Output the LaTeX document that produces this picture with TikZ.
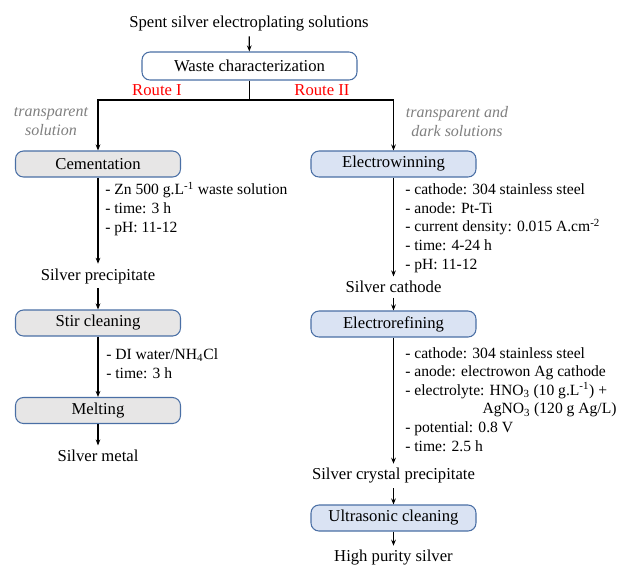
\documentclass[tikz,border=0pt]{standalone}
\usepackage{fontspec}
\setmainfont{Liberation Serif}
\usetikzlibrary{arrows.meta}
\definecolor{boxblue}{HTML}{4A6FA5}
\definecolor{greyfill}{HTML}{E7E6E6}
\definecolor{bluefill}{HTML}{DAE3F3}
\definecolor{notegrey}{HTML}{7F7F7F}

\begin{document}
\begin{tikzpicture}[x=0.75pt,y=-0.75pt,
    >={Stealth[length=4.5pt,width=3.5pt]},
    every node/.style={font=\fontsize{12.5}{15}\selectfont},
    stepbox/.style={draw=boxblue,line width=0.8pt,rounded corners=6pt,
        minimum width=123.75pt,minimum height=19.5pt,inner sep=0pt},
    greybox/.style={stepbox,fill=greyfill},
    bluebox/.style={stepbox,fill=bluefill},
    params/.style={anchor=base west,align=left,inner sep=0pt,
        font=\fontsize{11.7}{13.9}\selectfont},
    route/.style={text=red},
    note/.style={align=center,text=notegrey,
        font=\fontsize{12}{14.2}\selectfont\itshape}]
    \useasboundingbox (0,0) rectangle (622,565);

    % top
    \node (spent) at (249,24) {Spent silver electroplating solutions};
    \node[stepbox,fill=white,minimum width=161.25pt,minimum height=21pt] (waste) at (249.5,66) {Waste characterization};
    \coordinate (fork) at (249.5,100);
    \node[route] (r1) at (157,90) {Route I};
    \node[route] (r2) at (322,90) {Route II};
    \node[note] (n1) at (51,121.5) {transparent\\solution};
    \node[note] (n2) at (457,121.5) {transparent and\\dark solutions};

    % route I
    \node[greybox] (cem) at (98,164) {Cementation};
    \node[params] (p1) at (105,232) {- Zn 500 g.L\textsuperscript{-1} waste solution\\- time: 3 h\\- pH: 11-12};
    \node (ppt) at (98,276) {Silver precipitate};
    \node[greybox] (stir) at (98,323) {Stir cleaning};
    \node[params] (p2) at (106,378) {- DI water/NH\textsubscript{4}Cl\\- time: 3 h};
    \node[greybox] (melt) at (98,410.5) {Melting};
    \node (metal) at (98,456) {Silver metal};

    % route II
    \node[bluebox] (elw) at (393.5,164) {Electrowinning};
    \node[params] (p3) at (405,269) {- cathode: 304 stainless steel\\- anode: Pt-Ti\\- current density: 0.015 A.cm\textsuperscript{-2}\\- time: 4-24 h\\- pH: 11-12};
    \node (cath) at (393.5,287) {Silver cathode};
    \node[bluebox] (elr) at (393.5,324) {Electrorefining};
    \node[params] (p4) at (405,451) {- cathode: 304 stainless steel\\- anode: electrowon Ag cathode\\- electrolyte: HNO\textsubscript{3} (10 g.L\textsuperscript{-1}) +\\\hspace*{58pt}AgNO\textsubscript{3} (120 g Ag/L)\\- potential: 0.8 V\\- time: 2.5 h};
    \node (cryst) at (393.5,476) {Silver crystal precipitate};
    \node[bluebox] (ultra) at (393.5,518) {Ultrasonic cleaning};
    \node (pure) at (393.5,558) {High purity silver};

    \begin{scope}[line width=0.9pt]
        \draw[->] (spent) -- (waste);
        \draw (waste) -- (fork);
        \draw[->] (fork) -| (cem.north);
        \draw[->] (fork) -| (elw.north);
        \draw[->] (cem) -- (ppt);
        \draw[->] (ppt) -- (stir);
        \draw[->] (stir) -- (melt);
        \draw[->] (melt) -- (metal);
        \draw[->] (elw) -- (cath);
        \draw[->] (cath) -- (elr);
        \draw[->] (elr) -- (cryst);
        \draw[->] (cryst) -- (ultra);
        \draw[->] (ultra) -- (pure);
    \end{scope}
\end{tikzpicture}
\end{document}
